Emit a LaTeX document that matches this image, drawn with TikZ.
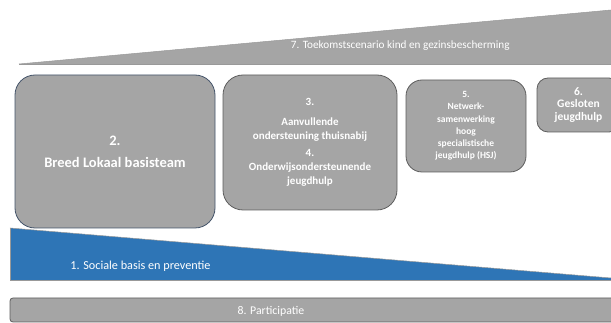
\documentclass[tikz,border=0pt]{standalone}
\usepackage{fontspec}
\setmainfont{Carlito}
\usepackage{tikz}
\usetikzlibrary{
    positioning,
    shapes,
    calc
}
\definecolor{FillGray}{HTML}{A5A5A5}
\definecolor{EdgeGray}{HTML}{5E5E5E}
\definecolor{EdgeBlue}{HTML}{44546A}
\definecolor{BaseBlue}{HTML}{2E75B6}

\begin{document}
\begin{tikzpicture}[
            x=1pt, y=-1pt,
            line width=0.8pt,
            level/.style={rectangle, rounded corners=20pt, draw=EdgeGray, fill=FillGray, text=white, align=center, font=\bfseries\fontsize{11}{14}\selectfont, inner sep=0pt},
            wedge/.style={draw=gray!80, line width=0.5pt},
            caption/.style={text=white, font=\fontsize{11.2}{13}\selectfont, inner sep=0pt},
        ]
        \useasboundingbox (0,0) rectangle (611,323);
        \clip (0,0) rectangle (611,323);

        % ===== 7: top wedge =====
        \fill[FillGray] (19,64) -- (611,10) -- (611,64) -- cycle;
        \draw[wedge] (19,64) -- (611,10);
        \draw[wedge] (19,64) -- (611,64);
        \node[caption, anchor=east] (toekomst) at (510,46) {7. Toekomstscenario kind en gezinsbescherming};

        % ===== levels 2 to 6 =====
        \node[level, draw=EdgeBlue, minimum width=200pt, minimum height=153pt, font=\bfseries\fontsize{14.5}{22}\selectfont] (basisteam) at (115,151.5) {2.\\Breed Lokaal basisteam};
        \node[level, minimum width=174pt, minimum height=135pt] (thuisnabij) at (310,142.5) {3.\\[6pt]Aanvullende\\ondersteuning thuisnabij\\[3pt]4.\\Onderwijsondersteunende\\jeugdhulp};
        \node[level, rounded corners=16pt, minimum width=120pt, minimum height=92pt, font=\bfseries\fontsize{9.5}{12.2}\selectfont] (hsj) at (466,126) {5.\\Netwerk-\\samenwerking\\hoog\\specialistische\\jeugdhulp (HSJ)};
        \node[level, rounded corners=11pt, minimum width=83pt, minimum height=54pt, font=\bfseries\fontsize{11.5}{12.5}\selectfont] (gesloten) at (578.5,105) {6.\\Gesloten\\jeugdhulp};

        % ===== 1: bottom wedge =====
        \fill[BaseBlue] (10,228) -- (611,278) -- (611,280) -- (10,280) -- cycle;
        \draw[wedge] (10,228) -- (611,278);
        \draw[wedge] (10,228) -- (10,280) -- (611,280);
        \node[caption, anchor=west, font=\fontsize{12.2}{14}\selectfont] (sociaal) at (70,266) {1. Sociale basis en preventie};

        % ===== 8: participation bar =====
        \node[rectangle, rounded corners=3pt, draw=EdgeGray, fill=FillGray, minimum width=615pt, minimum height=24pt, inner sep=0pt] (participatie) at (317.5,310) {};
        \node[caption, font=\fontsize{11.8}{13}\selectfont] (partlabel) at (271,311) {8. Participatie};
\end{tikzpicture}
\end{document}
